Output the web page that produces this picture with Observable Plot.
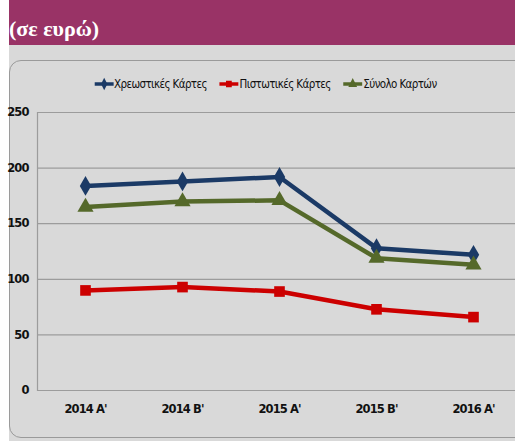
<!DOCTYPE html>
<html><head><meta charset="utf-8">
<script src="https://cdn.jsdelivr.net/npm/d3@7"></script>
<script src="https://cdn.jsdelivr.net/npm/@observablehq/plot@0.6"></script>
<style>
body{margin:0;width:515px;height:441px;overflow:hidden;background:#fff;position:relative;font-family:"DejaVu Sans",sans-serif;}
#hdr{position:absolute;left:9px;top:0;width:506px;height:45px;background:#993366;}
#hdr span{position:absolute;left:0;top:18px;color:#fff;font:bold 22px/22px "Liberation Serif",serif;}
#bg{position:absolute;left:9px;top:45px;width:506px;height:396px;background:#d9d9d9;}
#panel{position:absolute;left:9px;top:60px;width:530px;height:376px;border:1.5px solid #9a9a9a;border-radius:12px;background:#d9d9d9;}
#legend{position:absolute;top:77px;left:-85px;width:700px;text-align:center;font-size:12px;color:#111;white-space:nowrap;letter-spacing:-0.7px;transform:scaleX(0.86);}
#legend span.item{margin:0 7px;display:inline-flex;align-items:center;}
#chart{position:absolute;left:0;top:0;}
#chart svg text{letter-spacing:-0.9px;}
</style></head><body>
<div id="hdr"><span>(σε ευρώ)</span></div>
<div id="bg"></div>
<div id="panel"></div>
<div id="legend"></div>
<div id="chart"></div>
<script>
const periods = ["2014 A'", "2014 B'", "2015 A'", "2015 B'", "2016 A'"];
const debit = [184, 188, 192, 128, 122];
const credit = [90, 93, 89, 73, 66];
const total = [165, 170, 171, 119, 113];
const seriesNames = ["Χρεωστικές Κάρτες", "Πιστωτικές Κάρτες", "Σύνολο Καρτών"];
const seriesColors = ["#1b3a66", "#cc0000", "#55692a"];
const seriesSymbols = ["diamond", "square", "triangle"];
const yTicks = [0, 50, 100, 150, 200, 250];

const seriesValues = [debit, credit, total];
const data = [];
seriesNames.forEach((s, i) => periods.forEach((p, j) => data.push({series: s, period: p, value: seriesValues[i][j]})));

const plot = Plot.plot({
  width: 515, height: 441,
  marginLeft: 37, marginRight: 0, marginTop: 112, marginBottom: 51,
  style: {background: "transparent", fontFamily: "'DejaVu Sans',sans-serif"},
  x: {type: "point", domain: periods, range: [85, 473], padding: 0, label: null},
  y: {domain: [0, 250], label: null},
  color: {domain: seriesNames, range: seriesColors},
  symbol: {domain: seriesNames, range: seriesSymbols},
  marks: [
    Plot.gridY(yTicks, {stroke: "#9c9c9c", strokeOpacity: 1, strokeWidth: 1.2}),
    Plot.frame({anchor: "left", stroke: "#9c9c9c", strokeWidth: 1.2}),
    Plot.axisY(yTicks, {tickSize: 0, tickPadding: 9, fontSize: 11.5, fill: "#111", fontWeight: "bold", label: null}),
    Plot.axisX({tickSize: 0, tickPadding: 14, fontSize: 11.5, fill: "#111", fontWeight: "bold", label: null}),
    Plot.line(data, {x: "period", y: "value", z: "series", stroke: "series", strokeWidth: 4.5}),
    Plot.dot(data, {x: "period", y: "value", symbol: "series", fill: "series", r: 6, stroke: "none"})
  ]
});
document.getElementById("chart").appendChild(plot);

// Legend
const leg = document.getElementById("legend");
seriesNames.forEach((s, i) => {
  const item = document.createElement("span");
  item.className = "item";
  const sym = d3.create("svg").attr("width", 24).attr("height", 14);
  sym.append("line").attr("x1", 1).attr("x2", 23).attr("y1", 7).attr("y2", 7).attr("stroke", seriesColors[i]).attr("stroke-width", 3.5);
  const symType = {diamond: d3.symbolDiamond, square: d3.symbolSquare, triangle: d3.symbolTriangle}[seriesSymbols[i]];
  sym.append("path").attr("d", d3.symbol(symType, 45)()).attr("transform", "translate(12,7)").attr("fill", seriesColors[i]);
  item.appendChild(sym.node());
  const t = document.createElement("span");
  t.textContent = s;
  item.appendChild(t);
  leg.appendChild(item);
});
</script>
</body></html>
